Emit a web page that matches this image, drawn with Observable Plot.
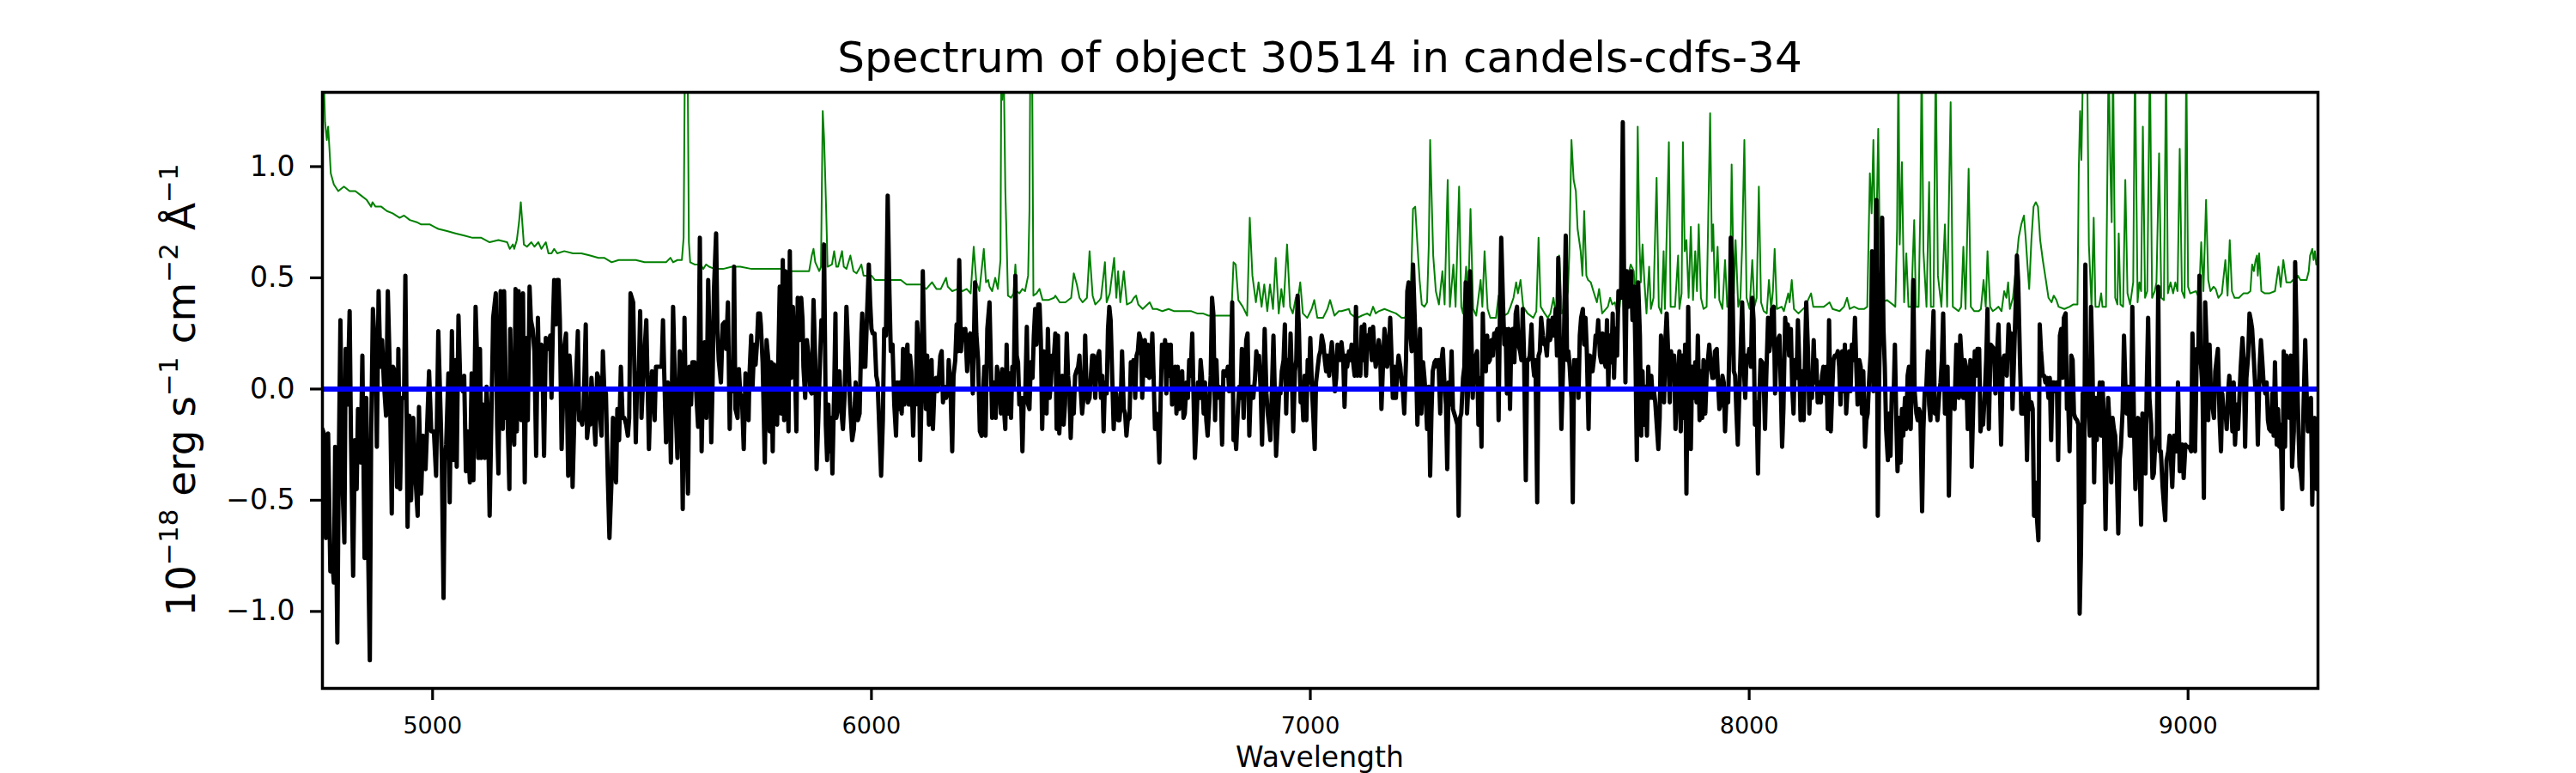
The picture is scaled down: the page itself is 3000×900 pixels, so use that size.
<!DOCTYPE html>
<html><head><meta charset="utf-8">
<script src="https://cdn.jsdelivr.net/npm/d3@7"></script>
<script src="https://cdn.jsdelivr.net/npm/@observablehq/plot@0.6"></script>
<style>html,body{margin:0;padding:0;background:#fff;} #chart{width:3000px;height:900px;}</style>
</head><body><div id="chart"></div>
<script>
const titleText = "Spectrum of object 30514 in candels-cdfs-34";
const xLabelText = "Wavelength";
const yLabelParts = [["10", false], ["\u221218", true], [" erg s", false], ["\u22121", true], [" cm", false], ["\u22122", true], [" \u00C5", false], ["\u22121", true]];
const xTicks = [5000, 6000, 7000, 8000, 9000];
const yTicks = [-1.0, -0.5, 0.0, 0.5, 1.0];

const waveA = [4749,4754,4757,4762,4767,4770,4775,4778,4783,4786,4790,4795,4799,4802,4806,4811,4814,4819,4823,4827,4830,4836,4840,4843,4845,4849,4853,4857,4860,4864,4870,4873,4877,4881,4885,4889,4894,4898,4902,4907,4910,4914,4919,4922,4926,4930,4935,4938,4943,4947,4951,4956,4961,4966,4969,4974,4978,4984,4987,4992,4997,5003,5008,5013,5018,5021,5025,5028,5031,5036,5039,5044,5048,5052,5055,5059,5063,5069,5072,5076,5080,5085,5089,5093,5098,5101,5104,5108,5111,5115,5119,5123,5126,5130,5134,5138,5144,5147,5150,5155,5160,5163,5168,5171,5175,5177,5181,5186,5189,5192,5196,5200,5202,5206,5210,5214,5217,5221,5224,5228,5232,5236,5240,5243,5248,5251,5254,5258,5263,5268,5271,5274,5277,5281,5284,5287,5290,5294,5297,5300,5304,5309,5312,5316,5319,5323,5326,5331,5334,5337,5341,5344,5349,5352,5356,5359,5362,5365,5371,5375,5378,5382,5385,5388,5391,5395,5399,5403,5408,5411,5414,5418,5421,5425,5429,5433,5437,5441,5445,5448,5451,5457,5460,5463,5466,5470,5473,5476,5480,5483,5487,5493,5497,5500,5506,5509,5514];
const fluxA = [-0.18,-0.21,-0.67,-0.20,-0.82,-0.73,-0.87,-0.26,-1.14,-0.38,0.31,-0.45,-0.69,0.18,-0.07,0.35,-0.21,-0.84,-0.23,-0.45,-0.09,-0.33,0.15,-0.40,-0.76,-0.04,-0.70,-1.22,-0.21,0.36,0.13,-0.26,0.44,0.10,0.22,0.03,-0.12,0.44,0.13,-0.56,0.10,0.08,-0.44,0.18,-0.45,-0.04,-0.04,0.51,-0.62,-0.12,-0.50,-0.13,-0.40,-0.57,-0.08,-0.47,-0.21,-0.36,-0.20,0.08,-0.19,-0.19,-0.39,0.26,-0.09,-0.32,-0.94,-0.32,-0.25,0.07,-0.51,0.26,-0.32,0.13,-0.35,0.33,0.03,-0.01,0.06,-0.37,-0.19,-0.42,0.07,-0.41,0.37,0.17,-0.31,0.18,-0.31,-0.07,-0.31,0.01,-0.11,-0.57,-0.13,0.32,0.43,-0.16,-0.38,0.44,-0.18,0.44,-0.13,-0.13,-0.45,0.27,-0.14,-0.25,0.45,-0.19,0.44,0.34,-0.14,0.43,-0.42,0.23,-0.14,0.46,0.31,0.27,0.17,-0.30,0.32,0.01,0.20,0.03,-0.30,0.23,0.18,0.24,-0.04,0.27,0.49,0.29,0.49,0.49,0.31,-0.27,-0.07,0.19,0.25,-0.39,0.15,0.01,-0.44,-0.13,-0.01,0.26,-0.14,-0.13,-0.16,-0.09,0.29,-0.22,-0.14,-0.16,0.05,-0.04,-0.25,0.07,0.05,-0.13,-0.21,0.17,0.01,-0.02,-0.38,-0.67,-0.40,-0.13,-0.28,-0.42,-0.09,-0.23,0.10,-0.13,-0.13,-0.16,-0.21,-0.13,0.43,0.39,0.08,-0.24,0.03,0.08,0.35,-0.13,0.06,0.17,0.31,-0.27,0.01,0.08,-0.14,0.10,0.10];

const waveB = [5522,5525,5528,5532,5536,5540,5543,5548,5553,5558,5563,5566,5570,5574,5577,5582,5585,5589,5592,5597,5600,5605,5609,5613,5617,5620,5624,5628,5632,5635,5638,5641,5646,5649,5652,5657,5661,5665,5669,5673,5677,5680,5684,5687,5690,5695,5698,5701,5705,5709,5713,5716,5720,5722,5726,5729,5733,5736,5739,5742,5746,5748,5752,5757,5761,5765,5768,5772,5775,5778,5782,5785,5787,5791,5794,5798,5801,5804,5807,5811,5814,5817,5821,5825,5829,5832,5836,5840,5843,5845,5849,5853,5858,5861,5864,5868,5872,5875,5879,5882,5886,5890,5892,5896,5899,5902,5905,5908,5911,5915,5918,5920,5923,5927,5931,5935,5939,5943,5947,5951,5956,5960,5964,5969,5973,5977,5979,5983,5986,5990,5994,5997,6000,6003,6007,6011,6014,6018,6022,6026,6029,6033,6037,6041,6044,6048,6052,6056,6059,6062,6065,6069,6072,6075,6078,6082,6085,6088,6091,6095,6098,6101,6104,6108,6111,6114,6117,6121,6124,6127,6131,6134,6137,6140,6144,6147,6150,6153,6157,6160,6163,6166,6170,6174,6176,6180,6184,6187,6191,6194,6197,6200,6204,6207,6210,6214,6218,6222,6225,6228,6231,6234,6236,6239,6243,6247,6251,6254,6257,6260,6264,6269,6272,6275,6279,6283,6286,6290];
const fluxB = [0.10,0.31,0.06,-0.24,0.03,-0.04,-0.33,0.37,-0.04,-0.31,0.17,0.10,-0.54,0.32,-0.09,-0.47,0.10,-0.07,0.12,0.12,0.01,-0.17,0.68,-0.28,0.13,0.21,-0.13,0.49,0.15,-0.24,0.03,0.44,0.70,0.27,0.13,0.03,0.29,0.30,0.18,0.39,-0.18,0.12,-0.01,0.55,-0.09,-0.13,0.09,-0.02,-0.04,-0.27,0.07,-0.01,-0.14,0.06,0.24,0.01,0.20,0.11,0.20,0.34,0.34,0.29,0.12,-0.33,0.22,0.13,-0.19,0.12,-0.28,0.11,-0.04,-0.16,0.05,0.46,-0.11,0.58,-0.14,0.53,0.13,-0.19,0.62,0.05,0.37,0.15,-0.19,0.41,0.22,0.41,0.31,0.10,-0.04,0.22,0.12,-0.01,-0.02,0.40,0.13,-0.36,-0.13,0.08,0.31,0.22,0.65,-0.16,-0.32,-0.07,-0.28,-0.13,-0.38,-0.01,0.34,-0.13,-0.09,0.08,-0.09,-0.18,-0.02,0.37,0.17,-0.06,-0.23,-0.18,0.03,-0.14,-0.11,0.25,0.34,0.10,0.10,0.34,0.56,0.39,0.27,0.25,0.25,0.06,0.03,-0.18,-0.39,-0.14,0.27,0.24,0.87,0.43,0.17,0.20,-0.07,-0.21,0.03,-0.09,0.03,-0.11,0.18,-0.07,0.13,0.20,-0.07,0.15,0.08,-0.21,-0.01,-0.07,0.30,0.17,-0.32,-0.04,0.53,0.13,-0.09,0.15,-0.16,0.10,0.13,-0.18,0.03,0.05,-0.01,0.03,0.15,0.17,-0.06,0.01,-0.04,-0.01,0.13,0.01,-0.28,0.06,0.13,0.29,0.17,0.58,0.17,0.27,0.24,0.27,0.08,0.24,0.25,0.17,-0.02,0.27,0.48,0.25,0.13,-0.19,-0.21,-0.04,0.10,-0.21,0.27,0.39,0.13,-0.13,0.03,-0.13,0.10,0.05];

const waveC = [6295,6298,6302,6305,6308,6311,6315,6318,6321,6324,6328,6331,6334,6337,6341,6344,6347,6350,6354,6357,6360,6363,6367,6370,6373,6376,6380,6383,6386,6389,6393,6396,6399,6402,6406,6409,6412,6415,6419,6422,6425,6428,6432,6435,6438,6441,6445,6448,6451,6454,6458,6461,6464,6467,6471,6474,6477,6480,6484,6487,6490,6493,6497,6500,6503,6506,6510,6513,6516,6519,6523,6526,6529,6532,6536,6539,6542,6545,6549,6552,6555,6558,6562,6565,6568,6571,6575,6578,6581,6584,6588,6591,6594,6597,6601,6604,6607,6610,6614,6617,6620,6623,6627,6630,6633,6636,6640,6643,6646,6649,6653,6656,6659,6662,6666,6669,6672,6675,6679,6682,6685,6688,6692,6695,6698,6701,6705,6708,6711,6714,6718,6721,6724,6727,6731,6734,6737,6740,6744,6747,6750,6753,6757,6760,6763,6766,6770,6773,6776,6779,6783,6786,6789,6792,6796,6799,6802,6805,6809,6812,6815,6818,6822,6825,6828,6831,6835,6838,6841,6844,6848,6851,6854,6857,6861,6864,6867,6870,6874,6877,6880,6883,6887,6890,6893,6896,6900,6903,6906,6909,6913,6916,6919,6922,6926,6929,6932,6935,6939,6942,6945,6948,6952,6955,6958,6961,6965,6968,6971,6974,6978,6981,6984,6987,6991,6994,6997,7000,7004,7007,7010,7013,7017,7020,7023,7026,7030,7033,7036,7039,7043,7046,7049,7052,7056,7059,7062];
const fluxC = [-0.11,0.09,-0.09,-0.18,0.20,-0.11,0.07,-0.13,0.10,0.01,0.51,0.15,0.12,-0.07,-0.04,-0.28,-0.04,-0.06,0.28,-0.07,-0.09,0.12,0.05,0.24,0.36,0.20,0.38,0.38,0.22,-0.18,0.17,0.03,-0.11,0.27,-0.04,0.03,0.15,0.12,0.25,-0.18,0.24,-0.20,-0.04,0.06,-0.16,-0.07,0.25,0.06,-0.01,-0.22,-0.01,-0.11,0.06,0.08,0.10,0.15,-0.01,-0.11,-0.02,0.24,0.01,-0.06,-0.04,0.06,0.15,0.15,-0.04,0.10,0.15,0.17,-0.04,0.06,-0.19,0.03,-0.02,0.27,0.37,0.31,0.03,-0.18,-0.02,-0.02,-0.14,-0.14,-0.07,0.17,-0.09,-0.11,-0.21,-0.14,-0.13,0.12,0.10,0.13,-0.04,0.15,0.17,0.25,0.22,-0.04,0.13,0.22,0.06,0.20,0.05,0.06,0.25,0.05,-0.18,-0.11,-0.16,-0.33,-0.04,0.20,0.10,0.22,-0.02,0.20,0.06,0.20,-0.07,0.06,0.10,-0.11,0.10,-0.09,-0.02,0.08,-0.13,-0.11,0.03,-0.04,0.13,0.06,0.25,-0.04,-0.31,-0.18,0.03,-0.04,0.13,0.06,-0.11,0.03,-0.14,-0.21,-0.06,0.06,0.41,0.34,-0.14,0.13,-0.04,0.01,-0.02,-0.25,0.08,0.08,0.06,0.10,-0.01,0.06,0.39,-0.23,-0.18,-0.27,-0.09,0.01,-0.04,0.18,-0.13,0.06,0.22,0.25,-0.21,-0.02,0.01,-0.04,0.05,0.17,0.12,0.15,-0.01,-0.25,0.03,0.27,-0.02,-0.11,-0.16,-0.23,0.03,0.24,-0.01,-0.30,-0.14,-0.01,-0.02,0.08,0.13,0.29,-0.11,0.13,0.01,0.25,0.06,-0.19,0.08,0.13,0.42,0.27,-0.06,-0.01,-0.14,0.06,-0.14,0.13,0.03,0.23,-0.01,-0.13,-0.27,0.03,0.10,0.15,0.17,0.24,0.20,0.13,0.08,0.15,0.06,0.15,0.21,0.13,-0.01,0.05,0.20];

const waveD = [7068,7071,7075,7078,7081,7084,7088,7091,7094,7097,7101,7104,7107,7110,7114,7117,7120,7123,7127,7130,7133,7136,7140,7143,7146,7149,7153,7156,7159,7162,7166,7169,7172,7175,7179,7182,7185,7188,7192,7195,7198,7201,7205,7208,7211,7214,7218,7221,7224,7227,7231,7234,7237,7240,7244,7247,7250,7253,7257,7260,7263,7266,7270,7273,7276,7279,7283,7286,7289,7292,7296,7299,7302,7305,7309,7312,7315,7318,7322,7325,7328,7331,7335,7338,7341,7344,7348,7351,7354,7357,7361,7364,7367,7370,7374,7377,7380,7383,7387,7390,7393,7396,7400,7403,7406,7409,7413,7416,7419,7422,7426,7429,7432,7435,7439,7442,7445,7448,7452,7455,7458,7461,7465,7468,7471,7474,7478,7481,7484,7487,7491,7494,7497,7500,7504,7507,7510,7513,7517,7520,7523,7526,7530,7533,7536,7539,7543,7546,7549,7552,7556,7559,7562,7565,7569,7572,7575,7578,7582,7585,7588,7591,7595,7598,7601,7604,7608,7611,7614,7617,7621,7624,7627,7630,7634,7637,7640,7643,7647,7650,7653,7656,7660,7663,7666,7669,7673,7676,7679,7682,7686,7689,7692,7695,7699,7702,7705,7708,7712,7715,7718,7721,7725,7728,7731,7734,7738,7741,7744,7747,7751,7754,7757,7760,7764,7767,7770,7773,7777,7780,7783,7786,7790,7793,7796,7799,7803,7806,7809,7812,7816,7819,7822,7825,7829,7832,7835];
const fluxD = [0.13,0.21,0.13,-0.08,0.15,0.10,0.17,0.13,0.20,0.13,0.06,0.37,0.06,0.17,0.06,0.28,0.13,0.29,0.06,0.24,0.20,0.27,0.13,0.28,0.17,0.10,0.15,0.22,0.17,-0.09,0.13,0.27,0.22,0.10,0.15,0.32,0.15,-0.04,0.10,-0.04,0.08,0.15,0.10,0.03,-0.01,-0.11,0.13,0.44,0.48,0.27,0.17,0.56,0.37,0.20,-0.16,0.06,0.27,-0.11,0.12,0.05,-0.04,-0.18,0.01,-0.39,-0.11,0.08,0.12,0.13,0.10,0.13,-0.11,0.13,0.18,0.05,-0.07,-0.36,0.03,-0.07,0.17,-0.09,-0.11,-0.13,-0.16,-0.57,-0.13,-0.11,0.05,0.10,0.48,-0.11,0.05,0.53,0.24,-0.04,0.13,0.15,0.17,-0.16,0.05,-0.26,0.34,0.10,0.08,0.24,0.12,0.13,0.22,0.15,0.25,0.24,0.27,-0.14,0.34,0.68,0.39,0.20,0.27,-0.02,0.27,-0.09,0.24,0.27,0.12,0.34,0.37,0.20,0.17,0.13,0.36,0.15,-0.41,0.13,0.13,0.15,0.29,0.12,0.06,0.13,-0.51,0.15,0.17,0.32,0.24,0.20,0.20,0.15,0.31,0.22,0.24,0.32,0.24,0.36,0.15,0.59,0.13,-0.18,0.03,0.24,0.69,0.13,0.17,0.10,-0.04,-0.51,0.13,0.03,0.13,-0.04,0.24,0.32,0.36,0.20,0.32,0.17,-0.18,0.15,0.08,0.08,0.15,0.24,0.22,0.31,0.15,0.12,0.25,0.13,0.10,0.31,0.01,0.24,0.12,0.34,0.05,0.27,0.15,0.44,0.44,0.41,1.20,0.46,0.03,0.53,0.37,0.44,0.53,0.31,0.46,0.13,-0.32,0.48,0.24,-0.21,0.08,-0.16,0.01,-0.21,0.10,-0.04,0.06,-0.04,-0.01,-0.06,-0.18,-0.27,-0.13,0.24,0.10,-0.06,0.22,0.34,0.13,-0.06,0.17,0.08,0.15,-0.18,-0.02];

const waveE = [7841,7844,7848,7851,7854,7857,7861,7864,7867,7870,7874,7877,7880,7883,7887,7890,7893,7896,7900,7903,7906,7909,7913,7916,7919,7922,7926,7929,7932,7935,7939,7942,7945,7948,7952,7955,7958,7961,7965,7968,7971,7974,7978,7981,7984,7987,7991,7994,7997,8000,8004,8007,8010,8013,8017,8020,8023,8026,8030,8033,8036,8039,8043,8046,8049,8052,8056,8059,8062,8065,8069,8072,8075,8078,8082,8085,8088,8091,8095,8098,8101,8104,8108,8111,8114,8117,8121,8124,8127,8130,8134,8137,8140,8143,8147,8150,8153,8156,8160,8163,8166,8169,8173,8176,8179,8182,8186,8189,8192,8195,8199,8202,8205,8208,8212,8215,8218,8221,8225,8228,8231,8234,8238,8241,8244,8247,8251,8254,8257,8260,8264,8267,8270,8273,8277,8280,8283,8286,8290,8293,8296,8299,8303,8306,8309,8312,8316,8319,8322,8325,8329,8332,8335,8338,8342,8345,8348,8351,8355,8358,8361,8364,8368,8371,8374,8377,8381,8384,8387,8390,8394,8397,8400,8403,8407,8410,8413,8416,8420,8423,8426,8429,8433,8436,8439,8442,8446,8449,8452,8455,8459,8462,8465,8468,8472,8475,8478,8481,8485,8488,8491,8494,8498,8501,8504,8507,8511,8514,8517,8520,8524,8527,8530,8533,8537,8540,8543,8546,8550];
const fluxE = [0.17,-0.19,0.15,-0.13,0.20,-0.47,0.37,-0.01,-0.27,0.10,-0.04,0.12,-0.06,0.24,-0.14,0.08,-0.13,0.13,-0.11,0.06,0.13,0.20,0.10,0.05,0.05,0.17,0.18,0.03,-0.09,-0.07,0.06,0.03,-0.19,-0.04,-0.06,0.20,0.68,0.56,0.08,0.06,-0.11,-0.25,0.01,0.20,0.39,0.13,-0.04,0.15,0.13,0.18,0.10,0.41,0.31,-0.16,-0.06,-0.38,-0.04,0.13,0.12,0.05,-0.18,0.06,0.32,0.17,0.22,0.36,0.37,-0.02,0.18,0.22,0.24,0.01,-0.26,-0.09,0.32,0.24,0.29,0.15,0.27,0.01,-0.11,0.13,0.05,0.31,0.13,-0.14,0.08,-0.14,0.13,0.39,0.17,-0.11,0.05,-0.04,0.22,0.03,0.13,-0.06,0.03,-0.06,0.06,0.10,-0.02,0.10,-0.18,0.31,-0.19,-0.02,0.13,0.15,0.15,0.17,0.10,-0.07,0.17,-0.01,0.20,-0.11,0.03,0.17,-0.01,0.20,0.13,0.32,0.10,-0.07,0.13,0.10,-0.11,0.08,-0.26,-0.14,-0.11,0.03,0.17,0.62,-0.01,0.27,0.85,-0.57,0.03,0.37,0.77,0.27,0.10,-0.18,-0.32,-0.11,-0.30,-0.01,-0.04,0.20,-0.13,-0.37,-0.13,-0.33,-0.09,-0.21,-0.04,-0.18,0.06,0.10,-0.18,0.10,0.49,-0.01,-0.11,-0.14,-0.09,-0.11,-0.55,-0.18,-0.01,-0.02,0.17,-0.07,-0.14,0.12,0.35,-0.11,-0.07,-0.14,-0.02,0.03,0.13,0.34,-0.11,0.06,0.10,-0.48,-0.01,-0.07,-0.01,-0.09,0.20,0.06,-0.04,0.24,0.10,-0.04,0.13,0.10,-0.18,-0.14,0.13,-0.35,-0.04,0.17,0.06,0.18,0.18,-0.19,-0.14,-0.16,-0.01,0.13,0.36,-0.18,0.20];

const waveF = [8558,8561,8565,8568,8571,8574,8578,8581,8584,8587,8591,8594,8597,8600,8604,8607,8610,8613,8617,8620,8623,8626,8630,8633,8636,8639,8643,8646,8649,8652,8656,8659,8662,8665,8669,8672,8675,8678,8682,8685,8688,8691,8695,8698,8701,8704,8708,8711,8714,8717,8721,8724,8727,8730,8734,8737,8740,8743,8747,8750,8753,8756,8760,8763,8766,8769,8773,8776,8779,8782,8786,8789,8792,8795,8799,8802,8805,8808,8812,8815,8818,8821,8825,8828,8831,8834,8838,8841,8844,8847,8851,8854,8857,8860,8864,8867,8870,8873,8877,8880,8883,8886,8890,8893,8896,8899,8903,8906,8909,8912,8916,8919,8922,8925,8929,8932,8935,8938,8942,8945,8948,8951,8955,8958,8961,8964,8968,8971,8974,8977,8981,8984,8987,8990,8994,8997,9000,9003,9007,9010,9013,9016,9020,9023,9026,9029,9033,9036,9039,9042,9046,9049,9052,9055,9059,9062,9065,9068,9072,9075,9078,9081,9085,9088,9091,9094,9098,9101,9104,9107,9111,9114,9117,9120,9124,9127,9130,9133,9137,9140,9143,9146,9150,9153,9156,9159,9163,9166,9169,9172,9176,9179,9182,9185,9189,9192,9195,9198,9202,9205,9208,9211,9215,9218,9221,9224,9228,9231,9234,9237,9241,9244,9247,9250,9254,9257,9260,9263,9267,9270,9273,9276,9280,9283,9286,9289,9293];
const fluxF = [0.18,-0.02,0.17,0.29,0.05,-0.25,0.13,0.15,0.15,0.06,0.29,0.22,0.25,-0.09,0.17,0.37,0.60,0.48,0.13,-0.11,-0.04,-0.11,-0.01,-0.32,-0.01,-0.09,-0.06,-0.09,-0.57,-0.42,-0.59,-0.68,0.29,0.17,0.06,0.06,0.03,0.05,-0.04,0.05,-0.23,0.03,0.03,-0.01,0.03,-0.32,0.24,0.27,0.05,0.32,0.34,-0.09,-0.06,-0.28,0.15,0.13,-0.11,-0.13,-0.14,-0.16,-1.01,-0.73,-0.02,-0.51,0.56,-0.09,-0.09,-0.21,0.37,0.13,-0.42,-0.04,-0.23,-0.07,0.03,-0.21,0.03,-0.13,-0.63,-0.23,-0.04,-0.16,-0.42,-0.13,-0.18,-0.21,-0.39,-0.65,-0.32,-0.26,-0.09,0.24,0.03,-0.11,0.01,-0.21,-0.21,0.37,-0.18,-0.45,-0.18,-0.13,-0.38,-0.61,-0.11,-0.25,-0.38,0.03,0.32,-0.04,-0.16,-0.40,-0.38,-0.25,-0.21,0.46,-0.28,-0.28,-0.44,-0.52,-0.59,-0.32,-0.28,-0.21,-0.32,-0.44,-0.21,-0.21,-0.28,0.03,-0.37,-0.26,-0.25,-0.40,-0.25,-0.26,-0.26,-0.26,-0.28,0.25,-0.01,-0.28,0.18,0.12,0.51,0.13,-0.01,-0.49,0.39,0.22,-0.14,0.20,-0.02,-0.07,-0.13,0.08,0.13,0.18,-0.14,-0.28,-0.02,-0.11,-0.09,-0.18,-0.02,0.06,-0.06,-0.19,0.03,-0.25,-0.07,-0.18,-0.04,0.10,0.23,0.13,-0.26,0.05,0.15,0.34,0.31,0.27,0.13,0.01,0.03,-0.25,0.10,0.22,0.13,0.03,-0.02,0.03,-0.14,-0.18,-0.19,-0.02,-0.21,0.12,-0.25,-0.09,-0.26,-0.16,-0.54,0.17,-0.26,0.15,-0.02,-0.13,0.15,-0.35,-0.19,0.57,0.29,-0.06,-0.35,-0.38,-0.45,-0.09,0.22,-0.01,-0.19,-0.16,-0.04,-0.52,-0.18,-0.13,-0.45];

const noise = [[4749,1.50],[4752,1.40],[4755,1.20],[4759,1.12],[4762,1.18],[4765,1.08],[4768,0.97],[4775,0.92],[4785,0.89],[4798,0.91],[4811,0.89],[4824,0.89],[4837,0.87],[4850,0.85],[4860,0.82],[4863,0.84],[4870,0.82],[4883,0.82],[4896,0.80],[4909,0.79],[4925,0.77],[4935,0.78],[4948,0.76],[4964,0.75],[4974,0.74],[4994,0.74],[5013,0.72],[5033,0.71],[5052,0.70],[5072,0.69],[5091,0.68],[5111,0.68],[5130,0.66],[5150,0.67],[5170,0.66],[5176,0.63],[5183,0.65],[5186,0.63],[5192,0.67],[5197,0.75],[5201,0.84],[5204,0.76],[5208,0.65],[5215,0.64],[5225,0.66],[5232,0.64],[5241,0.66],[5248,0.63],[5258,0.66],[5264,0.61],[5271,0.61],[5277,0.63],[5284,0.61],[5300,0.62],[5320,0.61],[5339,0.61],[5359,0.60],[5378,0.59],[5391,0.59],[5408,0.57],[5424,0.58],[5444,0.58],[5463,0.58],[5483,0.57],[5502,0.57],
[5532,0.57],[5542,0.59],[5548,0.57],[5558,0.58],[5568,0.58],[5572,0.68],[5575,1.50],[5579,1.40],[5581,1.50],[5584,0.66],[5587,0.57],[5597,0.56],[5610,0.56],[5617,0.54],[5623,0.56],[5630,0.55],[5643,0.54],[5662,0.54],[5682,0.55],[5701,0.55],[5727,0.54],[5747,0.54],[5767,0.54],[5780,0.54],[5793,0.54],[5806,0.53],[5825,0.53],[5845,0.53],[5858,0.53],[5864,0.60],[5868,0.63],[5872,0.57],[5881,0.53],[5885,0.55],[5887,0.91],[5889,1.25],[5892,1.13],[5894,1.00],[5897,0.79],[5900,0.55],[5910,0.56],[5915,0.62],[5920,0.55],[5924,0.55],[5933,0.62],[5937,0.55],[5943,0.54],[5952,0.60],[5959,0.53],[5966,0.52],[5972,0.54],[5977,0.56],[5982,0.51],[5992,0.51],[6000,0.51],[6008,0.49],[6021,0.49],[6034,0.49],[6054,0.49],[6067,0.49],[6080,0.47],[6099,0.47],[6112,0.47],[6125,0.45],[6138,0.48],[6148,0.45],[6158,0.45],[6170,0.50],[6174,0.46],[6184,0.44],[6197,0.45],[6207,0.44],[6217,0.45],[6226,0.43],[6233,0.64],[6236,0.56],[6239,0.48],[6246,0.44],[6256,0.63],[6261,0.48],[6266,0.49],[6269,0.46],[6275,0.44],[6282,0.50],[6288,0.45],[6294,0.58],
[6296,1.50],[6298,1.30],[6301,1.50],[6305,0.90],[6308,0.67],[6311,0.42],[6318,0.41],[6324,0.43],[6328,0.56],[6331,0.44],[6337,0.43],[6344,0.45],[6350,0.44],[6357,0.51],[6360,0.80],[6362,1.50],[6366,1.50],[6369,0.42],[6376,0.43],[6383,0.45],[6390,0.40],[6403,0.40],[6416,0.41],[6419,0.42],[6429,0.39],[6442,0.39],[6455,0.41],[6461,0.52],[6468,0.47],[6474,0.41],[6481,0.39],[6491,0.41],[6497,0.62],[6504,0.42],[6510,0.38],[6520,0.40],[6523,0.41],[6532,0.57],[6536,0.39],[6543,0.43],[6553,0.59],[6558,0.41],[6562,0.53],[6567,0.39],[6575,0.53],[6582,0.38],[6592,0.39],[6598,0.41],[6603,0.42],[6608,0.38],[6618,0.36],[6634,0.39],[6641,0.36],[6650,0.36],[6663,0.35],[6677,0.36],[6690,0.35],[6703,0.35],[6716,0.35],[6729,0.35],[6742,0.34],[6755,0.34],[6768,0.33],[6781,0.33],[6794,0.33],[6807,0.33],[6820,0.33],[6825,0.57],[6830,0.56],[6836,0.40],[6846,0.37],[6856,0.33],[6862,0.77],[6868,0.51],[6876,0.39],[6882,0.48],[6889,0.37],[6895,0.47],[6902,0.35],[6908,0.47],[6915,0.36],[6921,0.59],[6928,0.34],[6934,0.45],[6939,0.37],[6947,0.65],[6954,0.37],[6960,0.34],[6967,0.41],[6971,0.39],[6977,0.48],[6983,0.34],[6993,0.32],[7003,0.36],[7009,0.40],[7016,0.32],[7029,0.32],[7039,0.36],[7045,0.40],[7055,0.33],[7065,0.35],
[7071,0.35],[7088,0.36],[7091,0.34],[7097,0.33],[7107,0.32],[7117,0.33],[7130,0.34],[7136,0.33],[7143,0.37],[7149,0.34],[7156,0.35],[7169,0.36],[7182,0.35],[7195,0.34],[7208,0.32],[7215,0.32],[7221,0.34],[7228,0.37],[7234,0.81],[7239,0.82],[7244,0.65],[7249,0.49],[7254,0.38],[7260,0.37],[7266,0.39],[7270,0.65],[7273,1.12],[7277,0.82],[7280,0.60],[7286,0.44],[7293,0.38],[7301,0.53],[7306,0.38],[7313,0.94],[7318,0.37],[7326,0.56],[7331,0.37],[7339,0.91],[7344,0.37],[7348,0.34],[7355,0.55],[7360,0.41],[7365,0.81],[7371,0.36],[7378,0.33],[7388,0.49],[7392,0.37],[7397,0.62],[7404,0.36],[7410,0.32],[7423,0.32],[7429,0.42],[7433,0.32],[7450,0.34],[7456,0.37],[7463,0.41],[7469,0.48],[7473,0.43],[7479,0.49],[7485,0.37],[7495,0.34],[7508,0.32],[7515,0.35],[7520,0.68],[7525,0.37],[7534,0.34],[7541,0.32],[7547,0.34],[7554,0.41],[7560,0.33],[7567,0.60],[7573,0.34],[7580,0.37],[7587,0.44],[7590,0.60],[7595,1.12],[7600,0.94],[7605,0.89],[7609,0.72],[7616,0.62],[7620,0.51],[7624,0.80],[7629,0.51],[7633,0.49],[7639,0.48],[7645,0.44],[7653,0.39],[7658,0.45],[7665,0.34],[7678,0.37],[7683,0.41],[7688,0.38],[7694,0.39],[7701,0.32],[7705,0.37],[7710,0.49],[7716,0.55],[7720,0.46],[7724,0.51],[7730,0.56],[7737,0.53],[7742,0.37],[7746,1.18],[7750,0.65],[7753,0.48],[7757,0.65],[7761,0.49],[7766,0.34],[7772,0.55],[7776,0.36],[7782,0.41],[7789,0.95],[7794,0.37],[7800,0.34],[7805,0.62],[7808,0.36],[7817,1.11],[7821,0.37],[7831,0.37],[7838,0.60],
[7841,0.36],[7846,0.43],[7849,1.11],[7853,0.62],[7857,0.67],[7862,0.41],[7867,0.73],[7872,0.40],[7877,0.62],[7881,0.44],[7885,0.74],[7890,0.41],[7896,0.36],[7903,0.37],[7911,1.24],[7915,0.62],[7918,0.74],[7922,0.41],[7928,0.64],[7932,0.40],[7939,0.36],[7945,0.58],[7950,0.37],[7956,0.37],[7960,1.01],[7965,0.43],[7969,0.67],[7975,0.37],[7980,0.41],[7984,0.65],[7989,1.12],[7994,0.41],[8001,0.36],[8007,0.58],[8012,0.37],[8017,0.41],[8022,0.91],[8027,0.39],[8033,0.35],[8040,0.34],[8045,0.49],[8050,0.36],[8054,0.44],[8058,0.63],[8063,0.36],[8074,0.37],[8079,0.35],[8089,0.43],[8092,0.39],[8097,0.49],[8102,0.36],[8112,0.34],[8128,0.37],[8134,0.40],[8141,0.43],[8146,0.37],[8161,0.37],[8170,0.37],[8177,0.38],[8183,0.39],[8190,0.36],[8206,0.35],[8216,0.37],[8223,0.41],[8229,0.36],[8239,0.37],[8249,0.36],[8262,0.36],[8269,0.37],[8275,0.97],[8279,0.79],[8283,1.12],[8287,0.62],[8290,0.72],[8294,1.17],[8298,0.58],[8302,0.39],[8314,0.40],[8327,0.38],[8333,0.37],[8337,0.72],[8340,1.50],[8343,0.65],[8348,1.02],[8353,0.39],[8358,0.61],[8363,0.37],[8369,0.37],[8376,0.76],[8380,0.37],[8386,0.37],[8390,0.82],[8393,1.50],[8397,0.62],[8404,0.37],[8410,0.93],[8414,0.37],[8420,0.37],[8425,1.50],[8430,0.51],[8438,0.37],[8446,0.74],[8451,0.37],[8459,1.29],[8464,0.37],[8477,0.35],[8483,0.37],[8488,0.64],[8493,0.36],[8500,0.99],[8505,0.37],[8513,0.35],[8523,0.35],[8528,0.36],[8534,0.49],[8539,0.37],[8543,0.62],[8549,0.37],
[8555,0.35],[8562,0.36],[8568,0.37],[8575,0.35],[8581,0.44],[8586,0.41],[8590,0.48],[8594,0.36],[8601,0.41],[8607,0.53],[8614,0.68],[8620,0.74],[8626,0.78],[8630,0.68],[8634,0.56],[8638,0.45],[8643,0.67],[8648,0.82],[8653,0.84],[8658,0.82],[8663,0.67],[8669,0.58],[8676,0.49],[8682,0.41],[8689,0.39],[8694,0.42],[8700,0.40],[8705,0.37],[8718,0.36],[8730,0.37],[8738,0.38],[8748,0.38],[8751,0.99],[8754,1.25],[8757,1.03],[8761,1.50],[8765,1.50],[8770,1.50],[8774,0.65],[8780,0.37],[8785,0.77],[8789,0.37],[8797,0.37],[8802,0.43],[8805,0.37],[8813,0.37],[8819,1.50],[8823,0.99],[8826,0.75],[8829,1.50],[8834,0.41],[8839,0.38],[8842,0.70],[8846,0.38],[8852,0.37],[8857,0.94],[8862,0.43],[8868,0.38],[8875,0.48],[8879,1.50],[8885,0.39],[8889,0.48],[8893,0.44],[8897,1.18],[8902,0.41],[8907,0.44],[8913,1.50],[8918,0.41],[8924,0.44],[8928,0.48],[8934,1.06],[8939,0.41],[8945,0.40],[8950,1.50],[8954,0.43],[8960,0.48],[8966,0.43],[8971,0.48],[8976,0.44],[8981,1.08],[8986,0.44],[8992,0.41],[8996,1.50],[9000,0.46],[9005,0.43],[9018,0.44],[9025,0.41],[9030,0.66],[9035,0.44],[9041,0.85],[9046,0.49],[9051,0.44],[9058,0.46],[9063,0.45],[9069,0.41],[9077,0.43],[9085,0.58],[9090,0.42],[9095,0.67],[9100,0.44],[9106,0.41],[9116,0.41],[9126,0.43],[9136,0.43],[9142,0.44],[9146,0.56],[9150,0.53],[9154,0.58],[9157,0.60],[9159,0.51],[9162,0.61],[9167,0.44],[9175,0.43],[9185,0.43],[9198,0.44],[9206,0.55],[9211,0.46],[9217,0.58],[9224,0.48],[9234,0.48],[9239,0.49],[9243,0.48],[9250,0.51],[9256,0.49],[9263,0.49],[9270,0.49],[9275,0.53],[9278,0.60],[9283,0.63],[9286,0.58],[9289,0.62],[9292,0.56],[9297,0.56]];

const spectrum = [];
[[waveA, fluxA], [waveB, fluxB], [waveC, fluxC], [waveD, fluxD], [waveE, fluxE], [waveF, fluxF]].forEach(([w, f]) => {
  const n = Math.min(w.length, f.length);
  for (let i = 0; i < n; i++) spectrum.push({wavelength: w[i], flux: f[i]});
});
const noiseData = noise.map(([w, f]) => ({wavelength: w, flux: f}));

const font = "DejaVu Sans";
const chart = Plot.plot({
  width: 3000,
  height: 900,
  marginLeft: 375,
  marginRight: 301,
  marginTop: 107,
  marginBottom: 99,
  style: {fontFamily: font, background: "white", color: "black", overflow: "visible"},
  x: {domain: [4749, 9296], label: null},
  y: {domain: [-1.346, 1.334], label: null},
  marks: [
    Plot.line(noiseData, {x: "wavelength", y: "flux", stroke: "#008000", strokeWidth: 2, clip: true}),
    Plot.line(spectrum, {x: "wavelength", y: "flux", stroke: "black", strokeWidth: 5, strokeLinejoin: "round", clip: true}),
    Plot.ruleY([0], {stroke: "#0000ff", strokeWidth: 6}),
    Plot.frame({stroke: "black", strokeWidth: 3.5}),
    Plot.axisX({ticks: xTicks, tickSize: 14, tickPadding: 19, fontSize: 27, strokeWidth: 3.2, tickFormat: d => String(d), label: null}),
    Plot.axisY({ticks: yTicks, tickSize: 14, tickPadding: 18, fontSize: 33, strokeWidth: 3.2, tickFormat: d3.format(".1f"), label: null})
  ]
});

const svg = d3.select(chart);
svg.append("text")
  .attr("x", 1537).attr("y", 84)
  .attr("text-anchor", "middle")
  .attr("font-family", font).attr("font-size", 50).attr("fill", "black")
  .text(titleText);
svg.append("text")
  .attr("x", 1537).attr("y", 893)
  .attr("text-anchor", "middle")
  .attr("font-family", font).attr("font-size", 33).attr("fill", "black")
  .text(xLabelText);
const yl = svg.append("text")
  .attr("transform", "translate(227,454) rotate(-90)")
  .attr("text-anchor", "middle")
  .attr("font-family", font).attr("font-size", 47).attr("fill", "black");
let raised = false;
yLabelParts.forEach(([t, sup]) => {
  const ts = yl.append("tspan").text(t);
  if (sup && !raised) { ts.attr("dy", -20); raised = true; }
  else if (!sup && raised) { ts.attr("dy", 20); raised = false; }
  if (sup) ts.attr("font-size", 31);
});

document.getElementById("chart").append(chart);
</script>
</body></html>
